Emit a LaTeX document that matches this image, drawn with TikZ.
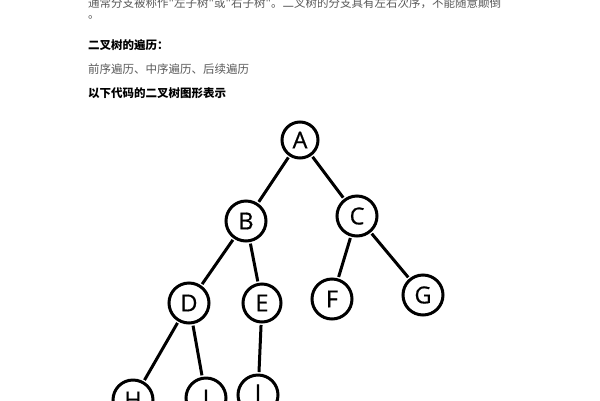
\documentclass[tikz,border=0pt]{standalone}
\usepackage{fontspec}
\newfontfamily\cjk{Noto Sans CJK SC}
\newfontfamily\lat{Open Sans}[FakeBold=0.6]
\definecolor{txtgray}{HTML}{5A5A5A}
\begin{document}
\begin{tikzpicture}[x=1pt,y=-1pt,
  txt/.style={anchor=west,inner sep=0pt,font=\cjk\fontsize{11.5}{12}\selectfont},
  gray/.style={txt,text=txtgray},
  bold/.style={txt,text=black,font=\cjk\bfseries\fontsize{11.5}{12}\selectfont},
  tn/.style={circle,draw=black,line width=3pt,minimum size=40pt,inner sep=0pt,font=\lat\fontsize{23.5}{24}\selectfont},
  edge/.style={line width=3pt,shorten <=1.5pt,shorten >=1.5pt}]
\useasboundingbox (0,0) rectangle (600,400);
\clip (0,0) rectangle (600,400);
\fill[white] (0,0) rectangle (600,400);
\node[gray] (l1) at (88,3) {通常分支被称作"左子树"或"右子树"。二叉树的分支具有左右次序，不能随意颠倒};
\node[gray] (l2) at (88,17) {。};
\node[bold] (l3) at (88,45) {二叉树的遍历：};
\node[gray] (l4) at (88,69) {前序遍历、中序遍历、后续遍历};
\node[bold] (l5) at (88,93) {以下代码的二叉树图形表示};
\node[tn,minimum size=36pt] (A) at (300,140) {A};
\node[tn] (B) at (246,221) {B};
\node[tn] (C) at (357,216) {C};
\node[tn] (D) at (189,303) {D};
\node[tn,minimum size=38pt] (E) at (262,303) {E};
\node[tn] (F) at (332,299) {F};
\node[tn] (G) at (423,295) {G};
\node[tn] (H) at (133,400) {H};
\node[tn] (I) at (206,398) {I};
\node[tn] (J) at (258,395) {J};
\draw[edge] (A) -- (B);
\draw[edge] (A) -- (C);
\draw[edge] (B) -- (D);
\draw[edge] (B) -- (E);
\draw[edge] (C) -- (F);
\draw[edge] (C) -- (G);
\draw[edge] (D) -- (H);
\draw[edge] (D) -- (I);
\draw[edge] (E) -- (J);
\end{tikzpicture}
\end{document}
